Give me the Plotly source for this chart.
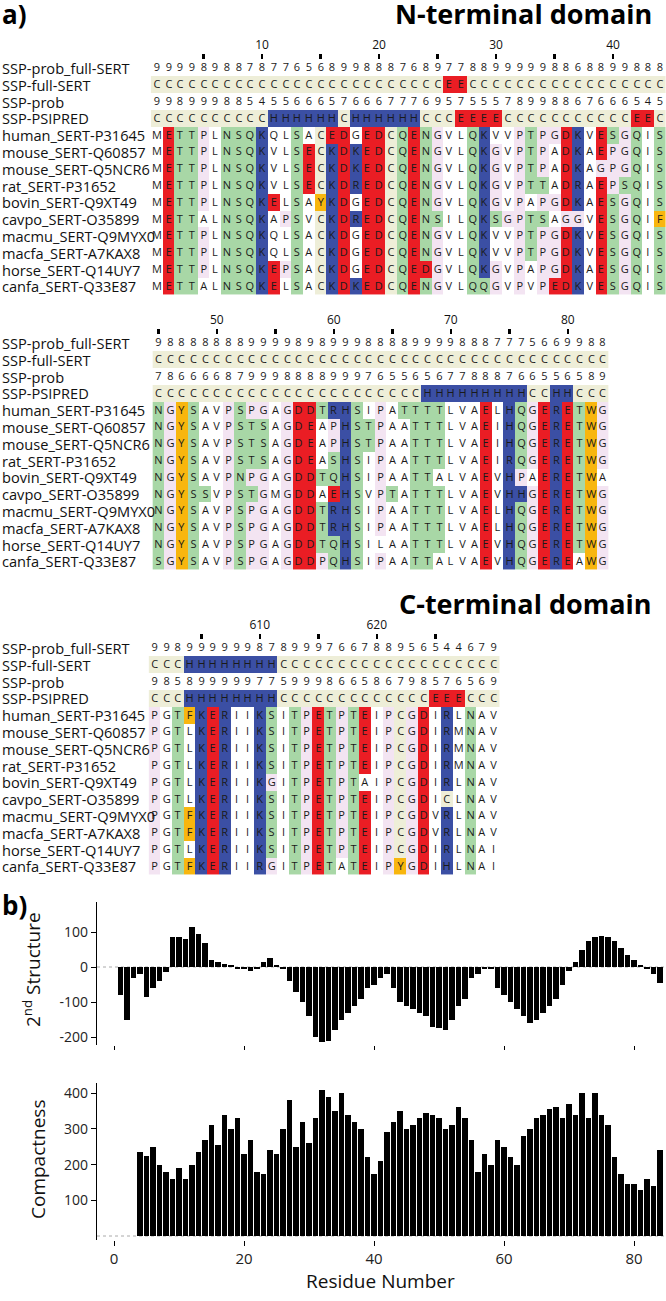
import plotly.graph_objects as go

W, H = 666, 1301

# ---------------- data: alignment ----------------
ROW_LABELS = ["SSP-prob_full-SERT", "SSP-full-SERT", "SSP-prob", "SSP-PSIPRED",
              "human_SERT-P31645", "mouse_SERT-Q60857", "mouse_SERT-Q5NCR6", "rat_SERT-P31652",
              "bovin_SERT-Q9XT49", "cavpo_SERT-O35899", "macmu_SERT-Q9MYX0", "macfa_SERT-A7KAX8",
              "horse_SERT-Q14UY7", "canfa_SERT-Q33E87"]

# N-terminal, residues 1-44
B1_FIRST = 1
B1_PROB_FULL = "99998988787765689988876897788999998868899888"
B1_SSP_FULL = "CCCCCCCCCCCCCCCCCCCCCCCCCEECCCCCCCCCCCCCCCCC"
B1_PROB = "99899988545566657666777695755578998867666545"
B1_PSIPRED = "CCCCCCCCCCHHHHHHCHHHHHHCCCEEEECCCCCCCCCCCEEC"
B1_SEQS = ["METTPLNSQKQLSACEDGEDCQENGVLQKVVPTPGDKVESGQIS",
           "METTPLNSQKVLSECKDKEDCQENGVLQKGVPTPADKAEPGQIS",
           "METTPLNSQKVLSECKDKEDCQENGVLQKGVPTPADKAGPGQIS",
           "METTPLNSQKVLSECKDREDCQENGVLQKGVPTTADRAEPSQIS",
           "METTPLNSQKELSAYKDGEDCQENGVLQKGVPAPGDKAESGQIS",
           "METTALNSQKAPSVCKDREDCQENSILQKSGPTSAGGVESGQIF",
           "METTPLNSQKQLSACKDGEDCQENGVLQKVVPTPGDKVESGQIS",
           "METTPLNSQKQLSACKDGEDCQENGVLQKVVPTPGDKVESGQIS",
           "METTPLNSQKEPSACKDGEDCQEDGVLQKGVPAPGDKAESGQIS",
           "METTALNSQKELSACKDKEDCQENGVLQQGVPVPEDKVESGQIS"]

# N-terminal, residues 45-83
B2_FIRST = 45
B2_PROB_FULL = "988888889999898999888899998887775669988"
B2_SSP_FULL = "CCCCCCCCCCCCCCCCCCCCCCCCCCCCCCCCCCCCCCC"
B2_PROB = "786666879998888999765565677888766556589"
B2_PSIPRED = "CCCCCCCCCCCCCCCCCCCCCCCHHHHHHHHHCCHHCCC"
B2_SEQS = ["NGYSAVPSPGAGDDTRHSIPATTTTLVAELHQGERETWG",
           "NGYSAVPSTSAGDEAPHSTPAATTTLVAEIHQGERETWG",
           "NGYSAVPSTSAGDEAPHSTPAATTTLVAEIHQGERETWG",
           "NGYSAVPSTSAGDEASHSIPAATTTLVAEIRQGERETWG",
           "NGYSAVPNPGAGDDTQHSIPAATTALVAEVHPAERETWA",
           "NGYSSVPSTGMGDDAEHSVPTATTTLVAEVHHGERETWG",
           "NGYSAVPSPGAGDDTRHSIPAATTTLVAELHQGERETWG",
           "NGYSAVPSPGAGDDTRHSIPAATTTLVAELHQGERETWG",
           "NGYSAVPSPGAGDDTQHSILAATTTLVAEVHQGERETWG",
           "SGYSAVPSPGAGDDPQHSIPAATTALVAEVHQGEREAWG"]

# C-terminal, residues 601-630
B3_FIRST = 601
B3_PROB_FULL = "998999999878999766788956544679"
B3_SSP_FULL = "CCCHHHHHHHHCCCCCCCCCCCCCCCCCCC"
B3_PROB = "985899999775999866586798576569"
B3_PSIPRED = "CCCHHHHHHHHCCCCCCCCCCCCCEEECCC"
B3_SEQS = ["PGTFKERIIKSITPETPTEIPCGDIRLNAV",
           "PGTLKERIIKSITPETPTEIPCGDIRMNAV",
           "PGTLKERIIKSITPETPTEIPCGDIRMNAV",
           "PGTLKERIIKSITPETPTEIPCGDIRMNAV",
           "PGTLKERIIKGITPETPTAIPCGDIRLNAV",
           "PGTLKERIIKSITPETPTEIPCGDICLNAV",
           "PGTFKERIIKSITPETPTEIPCGDVRLNAV",
           "PGTFKERIIKSITPETPTEIPCGDVRLNAV",
           "PGTLKERIIKSITPETPTEIPCGDIRLNAI",
           "PGTFKERIIRGITPETATEIPYGDIHLNAI"]

# residue positions whose residue is left uncoloured (low conservation)
UNCOLORED = {11: "Q", 18: "G", 602: "G"}

# ---------------- data: part b ----------------
RESIDUES = list(range(1, 85))
STRUCTURE = [-80, -150, -30, -20, -85, -60, -40, -15, 85, 85, 80, 115, 95, 70, 20, 15,
             10, 5, -5, -5, -10, -5, 15, 25, 5, -5, -40, -70, -100, -140, -200, -215,
             -210, -180, -150, -130, -110, -90, -60, -50, -30, -20, -60, -100, -110, -120,
             -130, -140, -170, -175, -180, -150, -110, -90, -30, -20, -5, -5,
             -60, -80, -100, -120, -140, -160, -150, -130, -110, -90, -50, -10,
             15, 50, 75, 85, 90, 85, 75, 55, 35, 20, 5, -5, -20, -45]
COMPACTNESS = [0, 0, 0, 235, 225, 250, 200, 180, 160, 190, 160, 200, 235, 270, 310, 255,
               340, 300, 330, 230, 270, 180, 175, 240, 230, 300, 380, 250, 320, 260, 330,
               410, 390, 350, 400, 340, 320, 300, 220, 175, 210, 290, 320, 350, 300, 310,
               330, 345, 340, 330, 300, 310, 360, 330, 270, 180, 230, 200, 270, 250, 220,
               200, 280, 300, 330, 340, 355, 360, 330, 370, 340, 400, 330, 400, 340, 310,
               220, 175, 145, 145, 130, 160, 140, 240]

# ---------------- styling ----------------
RES_CLASS = {"E": "r", "D": "r", "K": "b", "R": "b", "H": "b", "S": "g", "T": "g", "N": "g",
             "Q": "g", "G": "p", "P": "p", "Y": "o", "F": "o", "W": "o", "C": "y"}
SSP_CLASS = {"C": "y", "H": "b", "E": "r"}
CLASS_ORDER = [".", "y", "g", "p", "o", "r", "b"]
CLASS_COLOR = {".": "#ffffff", "y": "#eeeed8", "g": "#a8d7a6", "p": "#f3e4f2",
               "o": "#f8b60e", "r": "#ea1d24", "b": "#3b4fa4"}
n_cls = len(CLASS_ORDER)
colorscale = []
for k, c in enumerate(CLASS_ORDER):
    colorscale.append([k / n_cls, CLASS_COLOR[c]])
    colorscale.append([(k + 1) / n_cls, CLASS_COLOR[c]])

FONT = "Open Sans"
SEQ_FONT = dict(family=FONT, size=11, color="#1a1a1a")
LABEL_FONT = dict(family=FONT, size=14.6, color="#111111")

PITCH = 16.8
CELL = 11.7
blocks = [
    dict(first=B1_FIRST, rows=[B1_PROB_FULL, B1_SSP_FULL, B1_PROB, B1_PSIPRED] + B1_SEQS,
         x0=156.7, y0=68.0, ticks=list(range(5, 45, 5))),
    dict(first=B2_FIRST, rows=[B2_PROB_FULL, B2_SSP_FULL, B2_PROB, B2_PSIPRED] + B2_SEQS,
         x0=158.3, y0=343.0, ticks=list(range(45, 84, 5))),
    dict(first=B3_FIRST, rows=[B3_PROB_FULL, B3_SSP_FULL, B3_PROB, B3_PSIPRED] + B3_SEQS,
         x0=154.5, y0=648.0, ticks=list(range(605, 630, 5))),
]

fig = go.Figure()
annotations = []
layout = {}

for bi, b in enumerate(blocks):
    first = b["first"]
    rows = b["rows"]
    n = len(rows[0])
    z, txt = [], []
    for ri, row in enumerate(rows):
        zr = []
        for ci, ch in enumerate(row):
            pos = first + ci
            if ri in (0, 2):
                cls = "."
            elif ri in (1, 3):
                cls = SSP_CLASS.get(ch, ".")
            else:
                cls = RES_CLASS.get(ch, ".")
                if UNCOLORED.get(pos) == ch:
                    cls = "."
            zr.append(CLASS_ORDER.index(cls))
        z.append(zr)
        txt.append(list(row))
    xs = list(range(first, first + n))
    ys = list(range(len(rows)))
    ax = "" if bi == 0 else str(bi + 1)
    fig.add_trace(go.Heatmap(
        z=z, x=xs, y=ys, text=txt, texttemplate="%{text}", textfont=SEQ_FONT,
        colorscale=colorscale, zmin=-0.5, zmax=n_cls - 0.5, showscale=False,
        hoverinfo="skip", xaxis="x" + ax, yaxis="y" + ax))
    left = (b["x0"] - CELL / 2) / W
    right = (b["x0"] - CELL / 2 + n * CELL) / W
    top_px = b["y0"] - PITCH / 2
    bot_px = top_px + len(rows) * PITCH
    layout["xaxis" + ax] = dict(
        domain=[left, min(right, 1.0)], range=[first - 0.5, first + n - 0.5], side="top",
        anchor="y" + ax, tickvals=b["ticks"],
        ticktext=[str(t) if t % 10 == 0 else "" for t in b["ticks"]],
        ticks="outside", ticklen=5, tickwidth=2.5, tickcolor="#000",
        tickfont=dict(family=FONT, size=12, color="#111"),
        showgrid=False, zeroline=False, showline=False, fixedrange=True)
    layout["yaxis" + ax] = dict(
        domain=[1 - bot_px / H, 1 - top_px / H], range=[len(rows) - 0.5, -0.5],
        anchor="x" + ax, visible=False, fixedrange=True)
    for ri, lab in enumerate(ROW_LABELS):
        annotations.append(dict(text=lab, xref="paper", x=0, xanchor="left",
                                yref="y" + ax, y=ri, yanchor="middle", showarrow=False,
                                font=LABEL_FONT))

# ---------------- part b bars ----------------
fig.add_trace(go.Bar(x=RESIDUES, y=STRUCTURE, marker=dict(color="#000", line=dict(width=0)),
                     width=0.78, xaxis="x4", yaxis="y4", hoverinfo="skip"))
fig.add_trace(go.Bar(x=RESIDUES, y=COMPACTNESS, marker=dict(color="#000", line=dict(width=0)),
                     width=0.78, xaxis="x5", yaxis="y5", hoverinfo="skip"))

X_LEFT_PX, X0_PX, PX_PER = 97.0, 114.0, 6.5
xr = [(X_LEFT_PX - X0_PX) / PX_PER, (W - X0_PX) / PX_PER]
TICKF = dict(family=FONT, size=14, color="#222")

def bar_y(top_px, bot_px, zero_px, px_per100):
    return dict(domain=[1 - bot_px / H, 1 - top_px / H],
                range=[-(bot_px - zero_px) / px_per100 * 100, (zero_px - top_px) / px_per100 * 100])

y4 = bar_y(902, 1045, 967, 35.0)
y5 = bar_y(1083, 1240, 1236, 35.7)
layout["xaxis4"] = dict(domain=[X_LEFT_PX / W, 1], range=xr, anchor="y4", showticklabels=False,
                        ticks="outside", ticklen=4, tickcolor="#000", tickvals=[0, 20, 40, 60, 80],
                        showgrid=False, zeroline=False, showline=False, fixedrange=True)
layout["yaxis4"] = dict(**y4, anchor="x4", tickvals=[-200, -100, 0, 100],
                        ticktext=["-200", "-100", "0", "100"], ticks="outside", ticklen=5,
                        tickcolor="#000", showline=True, linecolor="#000", linewidth=1.2,
                        showgrid=False, zeroline=False, tickfont=TICKF, fixedrange=True)
layout["xaxis5"] = dict(domain=[X_LEFT_PX / W, 1], range=xr, anchor="y5",
                        ticks="outside", ticklen=5, tickcolor="#000",
                        tickvals=[0, 20, 40, 60, 80], tickfont=dict(family=FONT, size=15, color="#222"),
                        showgrid=False, zeroline=False, showline=False, fixedrange=True)
layout["yaxis5"] = dict(**y5, anchor="x5", tickvals=[100, 200, 300, 400],
                        ticks="outside", ticklen=5, tickcolor="#000", showline=True,
                        linecolor="#000", linewidth=1.2, showgrid=False, zeroline=False,
                        tickfont=TICKF, fixedrange=True)

shapes = [
    dict(type="line", xref="x4 domain", x0=0, x1=1, yref="y4", y0=0, y1=0,
         line=dict(color="#aaaaaa", width=1, dash="dot"), layer="below"),
    dict(type="line", xref="x5 domain", x0=0, x1=1, yref="y5", y0=0, y1=0,
         line=dict(color="#aaaaaa", width=1, dash="dot"), layer="below"),
]

TITLE_FONT = dict(family=FONT, size=27, color="#000")
annotations += [
    dict(text="<b>a)</b>", xref="paper", x=0, xanchor="left", yref="paper", y=1 - 14 / H,
         yanchor="middle", showarrow=False, font=dict(family=FONT, size=26, color="#000")),
    dict(text="<b>N-terminal domain</b>", xref="paper", x=654 / W, xanchor="right", yref="paper",
         y=1 - 14 / H, yanchor="middle", showarrow=False, font=TITLE_FONT),
    dict(text="<b>C-terminal domain</b>", xref="paper", x=654 / W, xanchor="right", yref="paper",
         y=1 - 603 / H, yanchor="middle", showarrow=False, font=TITLE_FONT),
    dict(text="<b>b)</b>", xref="paper", x=0, xanchor="left", yref="paper", y=1 - 905 / H,
         yanchor="middle", showarrow=False, font=dict(family=FONT, size=26, color="#000")),
    dict(text="2<sup>nd</sup> Structure", xref="paper", x=32 / W, xanchor="center", yref="paper",
         y=1 - 970 / H, yanchor="middle", textangle=-90, showarrow=False,
         font=dict(family=FONT, size=19, color="#111")),
    dict(text="Compactness", xref="paper", x=38 / W, xanchor="center", yref="paper",
         y=1 - 1160 / H, yanchor="middle", textangle=-90, showarrow=False,
         font=dict(family=FONT, size=19, color="#111")),
    dict(text="Residue Number", xref="paper", x=380 / W, xanchor="center", yref="paper",
         y=1 - 1281 / H, yanchor="middle", showarrow=False,
         font=dict(family=FONT, size=19, color="#111")),
]

fig.update_layout(width=W, height=H, margin=dict(l=0, r=0, t=0, b=0),
                  paper_bgcolor="white", plot_bgcolor="white", showlegend=False,
                  annotations=annotations, shapes=shapes, bargap=0, **layout)

fig.write_html("out.html", config={"displayModeBar": False, "staticPlot": True},
               post_script="document.body.style.margin='0';document.body.style.overflow='hidden';")
